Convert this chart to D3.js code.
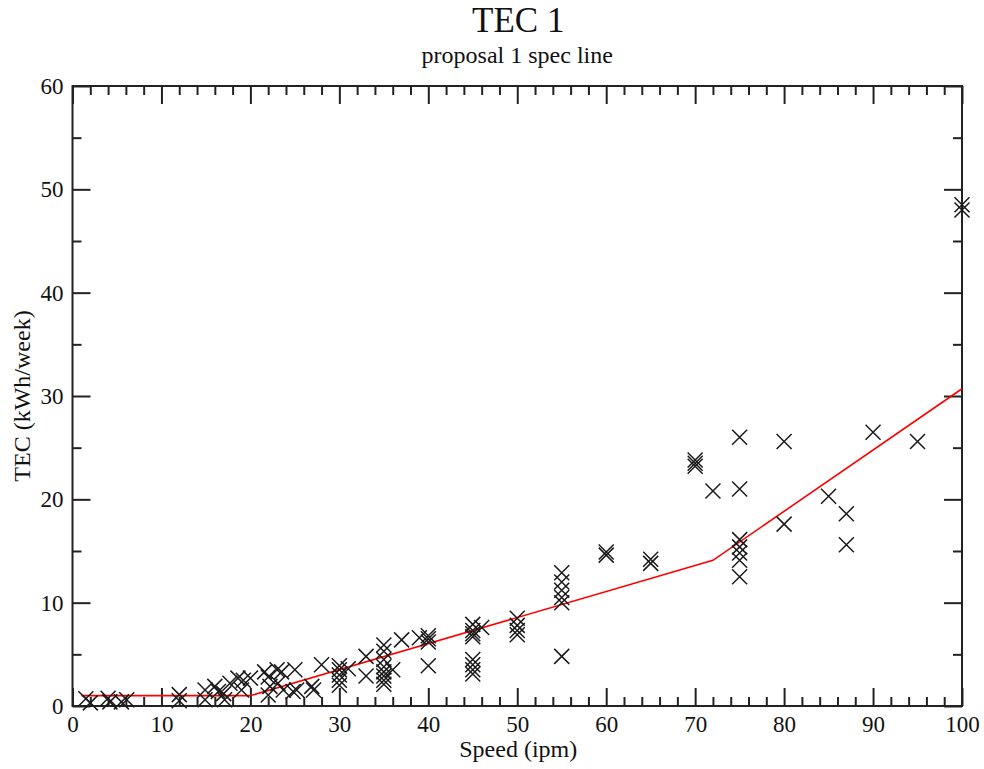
<!DOCTYPE html>
<html>
<head>
<meta charset="utf-8">
<script src="https://cdn.jsdelivr.net/npm/d3@7"></script>
<style>
  html, body { margin: 0; padding: 0; background: #fff; }
  svg { display: block; }
  svg text { font-family: "Liberation Serif", "Times New Roman", serif; fill: #111; }
</style>
</head>
<body>
<script>
// ---- data ----
const title = "TEC 1";
const subtitle = "proposal 1 spec line";
const xLabel = "Speed (ipm)";
const yLabel = "TEC (kWh/week)";

const speed = [
  1.5, 2, 4, 4.2, 5.5, 6.1,
  12, 12,
  14.9, 14.9, 16, 16.4, 17, 17.1, 17.7, 18.6, 19.2, 19, 20, 21.6, 22, 22.2, 22, 23, 23.5, 23.1, 23.7, 24.8, 25, 25.2, 26.9, 27.1, 28,
  30, 30, 30, 30, 30, 31, 33, 33,
  35, 35, 35, 35, 35, 35, 35, 35, 36, 37, 39,
  40, 40, 40, 40,
  45, 45, 45, 45, 45, 45, 45, 45, 46,
  50, 50, 50, 50,
  55, 55, 55, 55, 55, 55,
  60, 60, 65, 65,
  70, 70, 70, 72,
  75, 75, 75, 75, 75, 75, 75,
  80, 80, 85, 87, 87, 90, 95, 100, 100
];
const tec = [
  0.7, 0.3, 0.75, 0.4, 0.4, 0.6,
  1.1, 0.5,
  1.55, 0.6, 1.9, 1.4, 1.2, 0.6, 2.2, 2.7, 2.5, 1.55, 2.7, 3.3, 2.8, 1.9, 1.06, 3.5, 3.3, 2.2, 1.55, 1.4, 3.5, 1.55, 1.9, 1.55, 4.0,
  3.9, 3.5, 3.0, 2.5, 2.0, 3.6, 4.8, 2.9,
  5.9, 5.3, 4.5, 3.8, 3.3, 2.9, 2.5, 2.1, 3.5, 6.4, 6.6,
  6.8, 6.5, 6.2, 3.9,
  7.9, 7.3, 7.0, 6.7, 4.5, 4.0, 3.5, 3.1, 7.6,
  8.5, 7.8, 7.3, 6.9,
  12.9, 12.0, 11.2, 10.5, 10.0, 4.8,
  14.9, 14.6, 14.2, 13.8,
  23.8, 23.5, 23.2, 20.8,
  26.0, 21.0, 16.1, 15.4, 14.8, 14.1, 12.5,
  25.6, 17.6, 20.3, 18.6, 15.6, 26.5, 25.6, 48.5, 48.0
];
const specSpeed = [1, 20, 72, 100];
const specTec = [1.0, 1.0, 14.1, 30.7];

const xMajorTicks = [0, 10, 20, 30, 40, 50, 60, 70, 80, 90, 100];
const xMinorTicks = [2, 4, 6, 8, 12, 14, 16, 18, 22, 24, 26, 28, 32, 34, 36, 38, 42, 44, 46, 48,
  52, 54, 56, 58, 62, 64, 66, 68, 72, 74, 76, 78, 82, 84, 86, 88, 92, 94, 96, 98];
const yMajorTicks = [0, 10, 20, 30, 40, 50, 60];
const yMinorTicks = [5, 15, 25, 35, 45, 55];

// ---- layout ----
const W = 984, H = 769;
const mLeft = 72.5, mRight = 962, mTop = 86, mBottom = 706;

const svg = d3.select("body").append("svg").attr("width", W).attr("height", H);

const x = d3.scaleLinear().domain([0, 100]).range([mLeft, mRight]);
const y = d3.scaleLinear().domain([0, 60]).range([mBottom, mTop]);

const axisColor = "#222";
const majorLen = 18, minorLen = 9;
const fontSize = 23;
const serif = '"Liberation Serif", "Times New Roman", serif';

function styleAxis(g) {
  g.select(".domain").remove();
  g.attr("font-family", serif);
  g.selectAll(".tick line").attr("stroke", axisColor).attr("stroke-width", 2);
}
function styleText(g) {
  g.selectAll(".tick text")
    .style("font-family", serif)
    .style("font-size", fontSize + "px")
    .style("fill", "#111");
}

// bottom
svg.append("g").attr("transform", `translate(0,${mBottom})`)
  .call(d3.axisBottom(x).tickValues(xMajorTicks).tickSizeInner(-majorLen).tickSizeOuter(0).tickPadding(10).tickFormat(d3.format("d")))
  .call(styleAxis).call(styleText);
svg.append("g").attr("transform", `translate(0,${mBottom})`)
  .call(d3.axisBottom(x).tickValues(xMinorTicks).tickSizeInner(-minorLen).tickSizeOuter(0).tickFormat(""))
  .call(styleAxis);
// top
svg.append("g").attr("transform", `translate(0,${mTop})`)
  .call(d3.axisTop(x).tickValues(xMajorTicks).tickSizeInner(-majorLen).tickSizeOuter(0).tickFormat(""))
  .call(styleAxis);
svg.append("g").attr("transform", `translate(0,${mTop})`)
  .call(d3.axisTop(x).tickValues(xMinorTicks).tickSizeInner(-minorLen).tickSizeOuter(0).tickFormat(""))
  .call(styleAxis);
// left
svg.append("g").attr("transform", `translate(${mLeft},0)`)
  .call(d3.axisLeft(y).tickValues(yMajorTicks).tickSizeInner(-majorLen).tickSizeOuter(0).tickPadding(9).tickFormat(d3.format("d")))
  .call(styleAxis).call(styleText);
svg.append("g").attr("transform", `translate(${mLeft},0)`)
  .call(d3.axisLeft(y).tickValues(yMinorTicks).tickSizeInner(-minorLen).tickSizeOuter(0).tickFormat(""))
  .call(styleAxis);
// right
svg.append("g").attr("transform", `translate(${mRight},0)`)
  .call(d3.axisRight(y).tickValues(yMajorTicks).tickSizeInner(-majorLen).tickSizeOuter(0).tickFormat(""))
  .call(styleAxis);
svg.append("g").attr("transform", `translate(${mRight},0)`)
  .call(d3.axisRight(y).tickValues(yMinorTicks).tickSizeInner(-minorLen).tickSizeOuter(0).tickFormat(""))
  .call(styleAxis);

// frame
svg.append("rect")
  .attr("x", mLeft).attr("y", mTop)
  .attr("width", mRight - mLeft).attr("height", mBottom - mTop)
  .attr("fill", "none").attr("stroke", axisColor).attr("stroke-width", 2);

// spec line
const lineData = specSpeed.map((s, i) => [s, specTec[i]]);
svg.append("path")
  .datum(lineData)
  .attr("fill", "none")
  .attr("stroke", "#ff0000")
  .attr("stroke-width", 1.6)
  .attr("d", d3.line().x(d => x(d[0])).y(d => y(d[1])));

// X markers
const pts = speed.map((s, i) => [s, tec[i]]);
const r = 7.5;
svg.append("g").selectAll("path.m").data(pts).join("path")
  .attr("class", "m")
  .attr("d", d => {
    const px = x(d[0]), py = y(d[1]);
    return `M${px - r},${py - r}L${px + r},${py + r}M${px - r},${py + r}L${px + r},${py - r}`;
  })
  .attr("stroke", "#1a1a1a")
  .attr("stroke-width", 1.5)
  .attr("fill", "none");

// titles
const midX = (mLeft + mRight) / 2;
svg.append("text").attr("x", midX + 1).attr("y", 32).attr("text-anchor", "middle")
  .style("font-size", "35px").text(title);
svg.append("text").attr("x", midX).attr("y", 63).attr("text-anchor", "middle")
  .style("font-size", "24px").text(subtitle);
svg.append("text").attr("x", midX + 1).attr("y", 757).attr("text-anchor", "middle")
  .style("font-size", "24px").text(xLabel);
svg.append("text")
  .attr("transform", `translate(30,${(mTop + mBottom) / 2}) rotate(-90)`)
  .attr("text-anchor", "middle")
  .style("font-size", "24px").text(yLabel);
</script>
</body>
</html>
